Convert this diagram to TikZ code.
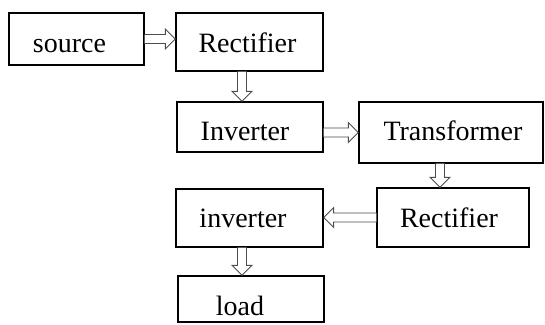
\documentclass[tikz,border=0pt]{standalone}
\usepackage{fontspec}
\setmainfont{Liberation Serif}
\newfontfamily\boxfont{Liberation Serif}
\usetikzlibrary{calc}
\begin{document}
\begin{tikzpicture}[x=1pt, y=-1pt,
  box/.style={draw=black, line width=1.3pt, rectangle, inner sep=0pt,
    font=\boxfont\fontsize{28}{30}\selectfont, text depth=0pt},
  % hollow block arrow: shaft half-width 4.5pt, head 10pt long, half-width 10pt
  blk/.style={draw=black!70, line width=0.9pt, fill=white,
    to path={let \p1=(\tikztostart), \p2=(\tikztotarget),
      \n1={atan2(\y2-\y1,\x2-\x1)}, \n2={veclen(\x2-\x1,\y2-\y1)} in
      [shift={(\p1)}, rotate=\n1]
      (0,4.5) -- (\n2-10,4.5) -- (\n2-10,10) -- (\n2,0) -- (\n2-10,-10)
      -- (\n2-10,-4.5) -- (0,-4.5)}}
]
\useasboundingbox (0,0) rectangle (545,324);
% power chain boxes (centre, size, baseline offset via text height)
\node[box, minimum width=135pt, minimum height=52pt, text height=26pt] (src) at (76.5,39) {source\kern14pt};
\node[box, minimum width=147pt, minimum height=58pt, text height=20pt] (rec1) at (249.5,42) {Rectifier\kern4pt};
\node[box, minimum width=146pt, minimum height=50pt, text height=26pt] (inv1) at (250,127) {Inverter\kern10pt};
\node[box, minimum width=184pt, minimum height=61pt, text height=15pt] (tra) at (451,132.5) {\kern4pt Transformer};
\node[box, minimum width=152pt, minimum height=59pt, text height=19pt] (rec2) at (453,217.5) {Rectifier\kern8pt};
\node[box, minimum width=147pt, minimum height=58pt, text height=18pt] (inv2) at (249.5,218) {inverter\kern13pt};
\node[box, minimum width=146pt, minimum height=46pt, text height=32pt] (load) at (251,299) {load\kern22pt};
% hollow block arrows between stages
\path[blk] (src.east) to (src.east -| rec1.west);
\path[blk] ([xshift=-7.5pt]rec1.south) to ([xshift=-8pt]inv1.north);
\path[blk] (inv1.east |- tra.west) to (tra.west);
\path[blk] ([xshift=-11pt]tra.south) to ([xshift=-13pt]rec2.north);
\path[blk] (rec2.west) to (rec2.west -| inv2.east);
\path[blk] ([xshift=-7.5pt]inv2.south) to ([xshift=-9pt]load.north);
\end{tikzpicture}
\end{document}
